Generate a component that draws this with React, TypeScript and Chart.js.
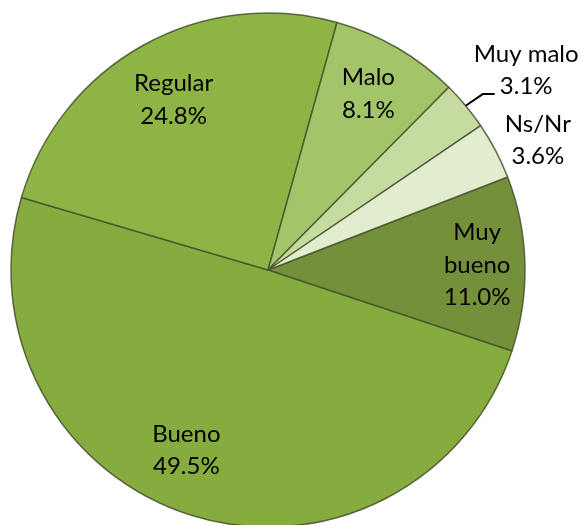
import React, { useEffect, useRef } from "react";
import { Chart, registerables } from "chart.js";

Chart.register(...registerables);

const categories = ["Muy bueno", "Bueno", "Regular", "Malo", "Muy malo", "Ns/Nr"];
const labelLines = [["Muy", "bueno", "11.0%"], ["Bueno", "49.5%"], ["Regular", "24.8%"], ["Malo", "8.1%"], ["Muy malo", "3.1%"], ["Ns/Nr", "3.6%"]];
const values = [11.0, 49.5, 24.8, 8.1, 3.1, 3.6];
const colors = ["#74903a", "#86ab3e", "#8eb445", "#a4c46a", "#c5dba0", "#e2edcf"];
// label placement: radius factor and angle tweak (degrees)
const labelRadius = [0.814, 0.77, 0.757, 0.79, 1.27, 1.165];
const labelAngleShift = [0, 7, 0, -0.5, 2, 2];
const leaderLine = [false, false, false, false, true, false];

const FONT = "Lato, 'Open Sans', sans-serif";

const labelPlugin = {
  id: "sliceLabels",
  afterDatasetsDraw(chart: any) {
    const ctx = chart.ctx;
    const meta = chart.getDatasetMeta(0);
    ctx.save();
    ctx.font = `24px ${FONT}`;
    ctx.fillStyle = "#000";
    ctx.textAlign = "center";
    ctx.textBaseline = "middle";
    const lh = 32.5;
    meta.data.forEach((arc: any, i: number) => {
      const { x, y, startAngle, endAngle, outerRadius } = arc.getProps(["x", "y", "startAngle", "endAngle", "outerRadius"], true);
      const mid = (startAngle + endAngle) / 2;
      const a = mid + (labelAngleShift[i] * Math.PI) / 180;
      const r = outerRadius * labelRadius[i];
      const cx = x + Math.cos(a) * r;
      const cy = y + Math.sin(a) * r;
      const lines = labelLines[i];
      const top = cy - ((lines.length - 1) * lh) / 2;
      lines.forEach((t, k) => ctx.fillText(t, cx, top + k * lh));
      if (leaderLine[i]) {
        const p0x = x + Math.cos(mid) * outerRadius;
        const p0y = y + Math.sin(mid) * outerRadius;
        const p1x = x + Math.cos(mid + 0.007) * outerRadius * 1.08;
        const p1y = y + Math.sin(mid + 0.007) * outerRadius * 1.08;
        ctx.beginPath();
        ctx.strokeStyle = "#000";
        ctx.lineWidth = 2;
        ctx.moveTo(p0x, p0y);
        ctx.lineTo(p1x, p1y);
        ctx.lineTo(p1x + 12, p1y);
        ctx.stroke();
      }
    });
    ctx.restore();
  },
};

export default function App() {
  const ref = useRef<HTMLCanvasElement>(null);
  useEffect(() => {
    if (!ref.current) return;
    const chart = new Chart(ref.current, {
      type: "pie",
      data: {
        labels: categories,
        datasets: [
          {
            data: values,
            backgroundColor: colors,
            borderColor: "rgba(70,82,45,0.85)",
            borderWidth: 1.5,
          },
        ],
      },
      options: {
        animation: false,
        responsive: false,
        rotation: 68.8,
        radius: 257,
        layout: { padding: { left: 10, top: 12, right: 56, bottom: 2 } },
        plugins: { legend: { display: false }, tooltip: { enabled: false } },
      },
      plugins: [labelPlugin],
    });
    return () => chart.destroy();
  }, []);
  return (
    <div style={{ position: "fixed", left: 0, top: 0, width: 582, height: 525, overflow: "hidden", background: "#fff" }}>
      <canvas ref={ref} width={582} height={530} style={{ display: "block", width: 582, height: 530 }} />
    </div>
  );
}
